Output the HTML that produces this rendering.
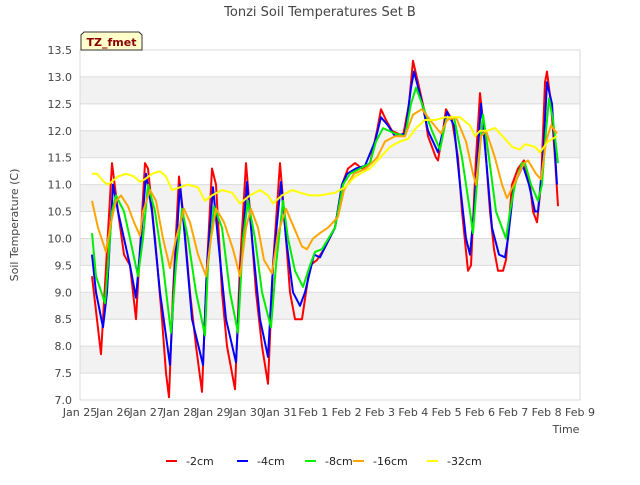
<!DOCTYPE html>
<html><head><meta charset="utf-8"><style>
body{margin:0;background:#fff;font-family:"Liberation Sans","DejaVu Sans",sans-serif;}
svg text{font-family:"DejaVu Sans","Liberation Sans",sans-serif;}
</style></head><body>
<svg id="chart" width="640" height="480" viewBox="0 0 640 480" xmlns="http://www.w3.org/2000/svg">
<text x="320" y="16" text-anchor="middle" font-size="13" fill="#444">Tonzi Soil Temperatures Set B</text>
<g id="bands"></g>
<g id="grid"></g>
<g id="yticks" font-size="11" fill="#444"></g>
<g id="xticks" font-size="11" fill="#444"></g>
<text transform="translate(18,225) rotate(-90)" text-anchor="middle" font-size="11" fill="#444">Soil Temperature (C)</text>
<text x="566" y="433" text-anchor="middle" font-size="11" fill="#444">Time</text>
<g id="series"></g>
<g>
<path d="M81,50 L81,35 L84,32 L139,32 L142,35 L142,50 Z" fill="#ffffcc" stroke="#333" stroke-width="1"/>
<text x="111.5" y="46" text-anchor="middle" font-size="11" font-weight="bold" fill="#8b0000">TZ_fmet</text>
</g>
<g id="legend" font-size="11" fill="#222"></g>
</svg>
<script>
const yTicks=[7.0,7.5,8.0,8.5,9.0,9.5,10.0,10.5,11.0,11.5,12.0,12.5,13.0,13.5];
const xTickLabels=["Jan 25","Jan 26","Jan 27","Jan 28","Jan 29","Jan 30","Jan 31","Feb 1","Feb 2","Feb 3","Feb 4","Feb 5","Feb 6","Feb 7","Feb 8","Feb 9"];
const seriesNames=["-2cm","-4cm","-8cm","-16cm","-32cm"];
const seriesColors=["#ff0000","#0000ff","#00ee00","#ffa500","#ffff00"];
const t2=[0.36,0.63,0.96,1.14,1.32,1.5,1.68,1.95,2.04,2.25,2.46,2.58,2.67,2.79,2.97,3.09,3.3,3.48,3.66,3.81,3.96,4.08,4.26,4.41,4.65,4.8,4.98,5.1,5.28,5.46,5.64,5.79,6.0,6.12,6.3,6.45,6.66,6.9,7.11,7.32,7.65,7.86,8.04,8.25,8.46,8.7,8.91,9.03,9.18,9.36,9.69,9.87,9.99,10.14,10.32,10.44,10.68,10.74,10.89,10.98,11.16,11.34,11.46,11.64,11.73,11.88,12.0,12.12,12.3,12.42,12.54,12.69,12.78,12.96,13.14,13.32,13.5,13.59,13.71,13.83,13.95,14.01,14.13,14.25,14.34];
const v2=[9.3,7.85,11.4,10.5,9.7,9.5,8.5,11.4,11.3,10.0,8.5,7.5,7.05,9.0,11.15,10.5,9.0,8.0,7.15,9.5,11.3,11.0,9.0,8.0,7.2,9.5,11.4,10.5,9.0,8.0,7.3,9.5,11.4,10.5,9.0,8.5,8.5,9.5,9.6,9.8,10.2,11.0,11.3,11.4,11.3,11.4,12.0,12.4,12.2,12.0,11.9,12.5,13.3,12.9,12.4,11.9,11.5,11.45,12.0,12.4,12.2,11.5,10.5,9.4,9.5,11.5,12.7,12.0,10.5,9.8,9.4,9.4,9.6,11.0,11.3,11.45,11.0,10.5,10.3,11.0,12.9,13.1,12.5,11.5,10.6];
const t4=[0.36,0.48,0.69,0.81,0.99,1.14,1.32,1.5,1.68,1.83,1.98,2.16,2.4,2.7,2.85,3.0,3.15,3.36,3.69,3.81,3.99,4.14,4.38,4.68,4.83,5.01,5.16,5.4,5.64,5.79,6.03,6.18,6.39,6.6,6.75,7.02,7.2,7.32,7.65,7.86,8.01,8.28,8.55,8.85,9.03,9.24,9.45,9.75,9.93,10.02,10.23,10.44,10.74,10.89,11.01,11.22,11.4,11.58,11.7,11.82,12.03,12.18,12.36,12.57,12.75,12.84,13.02,13.29,13.47,13.65,13.74,13.89,14.01,14.16,14.31];
const v4=[9.7,9.0,8.35,9.0,11.0,10.5,10.0,9.5,8.9,10.0,11.2,10.5,9.0,7.65,9.5,11.0,10.0,8.5,7.65,9.5,10.95,10.0,8.5,7.7,9.5,11.05,10.0,8.5,7.8,9.5,11.05,10.0,9.0,8.75,9.0,9.7,9.65,9.8,10.2,11.0,11.2,11.3,11.35,11.8,12.25,12.1,11.9,11.95,12.8,13.1,12.6,12.0,11.6,12.0,12.35,12.1,11.0,10.0,9.7,10.5,12.5,11.5,10.2,9.7,9.65,10.0,11.0,11.35,11.0,10.5,10.5,11.5,12.9,12.5,11.0];
const t8=[0.36,0.48,0.75,0.96,1.08,1.32,1.5,1.74,1.89,2.04,2.25,2.49,2.73,2.88,3.06,3.24,3.48,3.75,3.84,4.02,4.26,4.5,4.74,4.89,5.04,5.25,5.46,5.73,5.88,6.09,6.24,6.45,6.69,6.9,7.05,7.26,7.65,7.89,8.1,8.4,8.7,8.88,9.09,9.45,9.75,9.93,10.08,10.26,10.56,10.8,10.98,11.22,11.46,11.7,11.79,11.97,12.09,12.27,12.48,12.78,12.9,13.05,13.26,13.35,13.53,13.74,13.86,13.98,14.07,14.19,14.34];
const v8=[10.1,9.3,8.8,10.5,10.8,10.5,10.0,9.3,10.0,11.0,10.5,9.5,8.25,9.5,10.55,10.0,9.0,8.2,9.5,10.6,10.2,9.0,8.25,10.0,10.7,10.0,9.0,8.35,9.5,10.7,10.0,9.4,9.1,9.5,9.75,9.8,10.2,11.0,11.2,11.3,11.4,11.8,12.05,11.95,11.9,12.5,12.8,12.5,12.0,11.65,12.2,12.25,11.5,10.5,10.1,11.5,12.3,11.5,10.5,10.0,10.5,11.0,11.4,11.4,11.0,10.7,11.0,12.0,12.6,12.2,11.4];
const t16=[0.36,0.54,0.78,0.93,1.08,1.23,1.44,1.62,1.8,1.89,2.1,2.28,2.49,2.7,2.88,3.12,3.3,3.54,3.78,3.93,4.08,4.32,4.59,4.8,4.98,5.13,5.34,5.52,5.76,5.94,6.18,6.42,6.66,6.81,6.99,7.2,7.44,7.74,7.92,8.22,8.58,8.91,9.15,9.45,9.75,9.99,10.26,10.5,10.83,11.01,11.28,11.58,11.79,11.88,12.03,12.18,12.45,12.66,12.81,13.02,13.32,13.44,13.68,13.83,13.98,14.13,14.31];
const v16=[10.7,10.2,9.75,10.3,10.7,10.8,10.6,10.3,10.05,10.5,10.9,10.7,10.0,9.45,10.0,10.55,10.3,9.7,9.3,10.0,10.55,10.3,9.8,9.3,10.2,10.55,10.2,9.6,9.35,10.1,10.55,10.2,9.85,9.8,10.0,10.1,10.2,10.4,10.9,11.2,11.3,11.5,11.8,11.9,11.9,12.3,12.4,12.2,11.95,12.2,12.25,11.8,11.2,11.0,11.9,12.0,11.5,11.0,10.75,11.0,11.4,11.45,11.2,11.1,11.8,12.1,11.95];
const t32=[0.36,0.51,0.72,0.84,1.14,1.38,1.62,1.8,1.95,2.16,2.4,2.58,2.76,3.0,3.24,3.54,3.75,3.96,4.26,4.56,4.8,5.1,5.4,5.64,5.79,6.06,6.36,6.6,6.9,7.2,7.65,7.95,8.25,8.7,9.0,9.3,9.6,9.84,10.08,10.35,10.65,10.95,11.4,11.7,11.85,12.0,12.21,12.45,12.75,12.96,13.2,13.35,13.65,13.8,14.04,14.31];
const v32=[11.2,11.2,11.05,11.0,11.15,11.2,11.15,11.05,11.1,11.2,11.25,11.15,10.9,10.95,11.0,10.95,10.7,10.8,10.9,10.85,10.65,10.8,10.9,10.8,10.65,10.8,10.9,10.85,10.8,10.8,10.85,10.95,11.15,11.3,11.5,11.7,11.8,11.85,12.05,12.2,12.2,12.25,12.25,12.1,11.9,12.0,12.0,12.05,11.85,11.7,11.65,11.75,11.7,11.6,11.8,11.9];
const seriesTimes=[t2,t4,t8,t16,t32];
const seriesValues=[v2,v4,v8,v16,v32];

const NS="http://www.w3.org/2000/svg";
const L=80,R=580,T=50,B=400,X0=0,X1=15,Y0=7,Y1=13.5;
function xs(d){return L+(d-X0)/(X1-X0)*(R-L);}
function ys(v){return B-(v-Y0)/(Y1-Y0)*(B-T);}
function mk(tag,attrs,parent){const e=document.createElementNS(NS,tag);for(const k in attrs)e.setAttribute(k,attrs[k]);parent.appendChild(e);return e;}
const bands=document.getElementById('bands'),grid=document.getElementById('grid');
mk('rect',{x:L,y:T,width:R-L,height:B-T,fill:'#fff'},bands);
for(let i=0;i<yTicks.length-1;i++){
  if(i%2===1){const r=mk('rect',{x:L,y:ys(yTicks[i+1]),width:R-L,height:ys(yTicks[i])-ys(yTicks[i+1]),fill:'#f2f2f2'},bands);
  
  }
}
const yt=document.getElementById('yticks');
yTicks.forEach(v=>{
  const ln=mk('line',{x1:L,x2:R,y1:ys(v),y2:ys(v),stroke:'#dcdcdc','stroke-width':1},grid);
  
  
  const t=mk('text',{x:L-8,y:ys(v)+4,'text-anchor':'end'},yt);
  
  
  t.textContent=v.toFixed(1);
});
mk('rect',{x:L,y:T,width:R-L,height:B-T,fill:'none',stroke:'#d8d8d8','stroke-width':1},grid);
const xt=document.getElementById('xticks');
xTickLabels.forEach((lab,i)=>{
  const t=mk('text',{x:xs(i),y:416,'text-anchor':'middle'},xt);
  
  
  t.textContent=lab;
});
const sg=document.getElementById('series');
seriesValues.forEach((vals,s)=>{
  const ts=seriesTimes[s];
  const d=vals.map((v,i)=>(i?'L':'M')+xs(ts[i]).toFixed(1)+','+ys(v).toFixed(1)).join(' ');
  const p=mk('path',{d:d,fill:'none',stroke:seriesColors[s],'stroke-width':2,'stroke-linejoin':'round'},sg);
  
  
});
const lg=document.getElementById('legend');
const legX=[166,237,305,353,427];
seriesNames.forEach((n,s)=>{
  const g=mk('g',{},lg);
  
  
  mk('line',{x1:legX[s],x2:legX[s]+11,y1:461,y2:461,stroke:seriesColors[s],'stroke-width':2},g);
  const t=mk('text',{x:legX[s]+20,y:465},g);
  t.textContent=n;
});
</script>
</body></html>
